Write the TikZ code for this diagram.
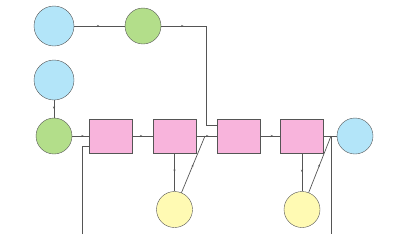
\documentclass[tikz,border=0pt]{standalone}
\usepackage{tikz}
\usetikzlibrary{calc,arrows.meta,decorations.markings}

\definecolor{srcBlue}{HTML}{B3E5F9}
\definecolor{gateGreen}{HTML}{B3DE8A}
\definecolor{stagePink}{HTML}{F8B4DC}
\definecolor{tapYellow}{HTML}{FFFAB3}
\definecolor{lineGray}{HTML}{555555}

\begin{document}
\begin{tikzpicture}[x=1pt,y=-1pt]
% Define styles
\tikzstyle{blueDot}=[circle, minimum size=40pt, inner sep=0pt, draw=lineGray, fill=srcBlue]
\tikzstyle{greenDot}=[circle, minimum size=36pt, inner sep=0pt, draw=lineGray, fill=gateGreen]
\tikzstyle{yellowDot}=[circle, minimum size=36pt, inner sep=0pt, draw=lineGray, fill=tapYellow]
\tikzstyle{stageBox}=[rectangle, minimum width=43pt, minimum height=34pt, inner sep=0pt, draw=lineGray, fill=stagePink]
\tikzstyle{wire}=[draw=lineGray, line width=0.7pt]
\tikzset{midarrow/.style={postaction={decorate}, decoration={markings, mark=at position #1 with {\arrow{Stealth[length=2.5pt,width=2pt]}}}}}

% Fix the page size
\useasboundingbox (0,0) rectangle (396,234);

% Draw sources and gates
\node[blueDot] (src) at (54,26) {};
\node[greenDot] (gate) at (143,26) {};
\node[blueDot] (inA) at (54,80) {};
\node[greenDot] (gateB) at (54,136) {};

% Draw stages
\node[stageBox] (stage1) at (110.5,136) {};
\node[stageBox] (stage2) at (174.5,136) {};
\node[stageBox] (stage3) at (238.5,136) {};
\node[stageBox] (stage4) at (302,136) {};

% Draw taps and sink
\node[yellowDot] (tap1) at (174.5,209.5) {};
\node[yellowDot] (tap2) at (302,209.5) {};
\node[blueDot, minimum size=36pt] (sink) at (355,136) {};

% Junction points
\coordinate (corner) at (206,26);
\coordinate (merge1) at (205,136);
\coordinate (merge2) at (331,136);
\coordinate (feedIn) at (82,234);
\coordinate (out) at (331,234);

% Arrows
\draw[wire, midarrow=0.5] (src) -- (gate);
\draw[wire, midarrow=0.5] (gate) -- (corner);
\draw[wire] (corner) |- ($(stage3.west)+(0,-11)$);
\draw[wire, midarrow=0.5] (inA) -- (gateB);
\draw[wire, midarrow=0.7] (gateB) -- (stage1);
\draw[wire] (feedIn) |- ($(stage1.west)+(0,10)$);
\draw[wire, midarrow=0.5] (stage1) -- (stage2);
\draw[wire, midarrow=0.6] (stage2) -- (stage3);
\draw[wire, midarrow=0.5] (stage2) -- (tap1);
\draw[wire, midarrow=0.5] (tap1) -- (merge1);
\draw[wire, midarrow=0.65] (stage3) -- (stage4);
\draw[wire, midarrow=0.5] (stage4) -- (tap2);
\draw[wire, midarrow=0.5] (tap2) -- (merge2);
\draw[wire] (stage4) -- (sink);
\draw[wire] (merge2) -- (out);
\end{tikzpicture}
\end{document}
